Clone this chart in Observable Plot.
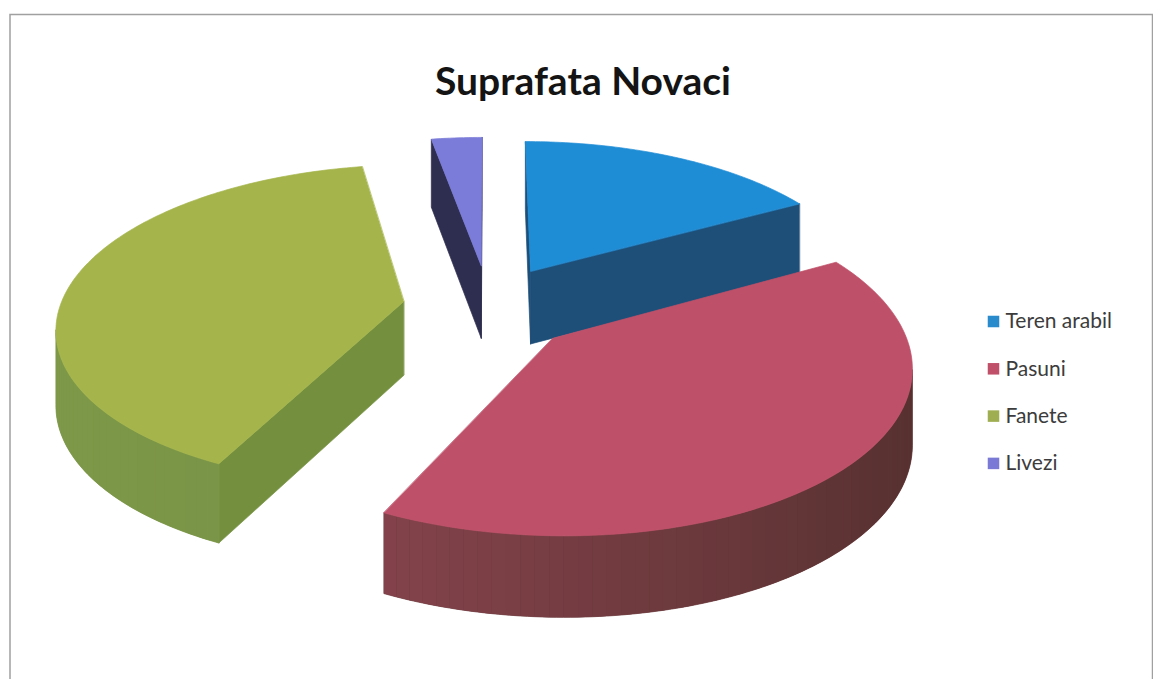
<!DOCTYPE html>
<html><head><meta charset="utf-8">
<script src="https://cdn.jsdelivr.net/npm/d3@7"></script>
<script src="https://cdn.jsdelivr.net/npm/@observablehq/plot@0.6"></script>
<style>html,body{margin:0;padding:0;background:#fff;overflow:hidden;}</style>
</head><body><div id="chart"></div>
<script>
// ---- data ----
const title = "Suprafata Novaci";
const categories = ["Teren arabil", "Pasuni", "Fanete", "Livezi"];
const values = [16.9, 40.3, 40.0, 2.8];
const topColors = ["#1f8dd6", "#be5069", "#a5b44b", "#7b7bd9"];
const cutColors = ["#1e4f79", "#6e383d", "#74903f", "#2e2e50"];
const wallLight = ["#2a6a9c", "#964a56", "#7e9949", "#45457a"];
const wallDark = ["#1a4466", "#55302f", "#6f8a40", "#2a2a48"];
const legendColors = ["#2a8bcc", "#c0506a", "#9fae50", "#7a7ad6"];

// ---- layout ----
const W = 1153, H = 679;
const CX = 488, CY = 307, RX = 344, RY = 158.5, PERSP = 0.147, DEPTH = 74;
const EXPLODE = 0.25, EXPLODE_V = 1.1;
const LEG_X = 993, LEG_TX = 1005, LEG_Y0 = 321, LEG_STEP = 47.3;

function project(u, v, h) {
  const w = 1 / (1 - PERSP * v);
  return [CX + RX * u * w, CY + RY * v * w + h * DEPTH * Math.sqrt(w)];
}
function area(pts) {
  let s = 0;
  for (let i = 0; i < pts.length; i++) {
    const [x1, y1] = pts[i], [x2, y2] = pts[(i + 1) % pts.length];
    s += x1 * y2 - x2 * y1;
  }
  return s / 2;
}

const arcs = d3.pie().sort(null).value(d => d)(values);
const slices = arcs.map((a, i) => {
  const m = (a.startAngle + a.endAngle) / 2;
  return {i, a0: a.startAngle, a1: a.endAngle, ou: EXPLODE * Math.sin(m), ov: -EXPLODE * EXPLODE_V * Math.cos(m)};
}).sort((p, q) => p.ov - q.ov);

const polys = [];
for (const s of slices) {
  const {i, a0, a1, ou, ov} = s;
  const P = (a, r, h) => project(ou + r * Math.sin(a), ov - r * Math.cos(a), h);
  const n = Math.max(2, Math.ceil((a1 - a0) / (Math.PI / 180)));
  const arc = d3.range(n + 1).map(k => a0 + (a1 - a0) * k / n);
  const sf = [P(a0, 0, 0), P(a0, 1, 0), P(a0, 1, 1), P(a0, 0, 1)];
  if (area(sf) < 0) polys.push({fill: cutColors[i], sw: 0.7, pts: sf});
  const ef = [P(a1, 1, 0), P(a1, 0, 0), P(a1, 0, 1), P(a1, 1, 1)];
  if (area(ef) < 0) polys.push({fill: cutColors[i], sw: 0.7, pts: ef});
  const shade = d3.interpolateRgb(wallLight[i], wallDark[i]);
  // visible runs of the outer wall: one base polygon, then shaded strips on top
  const vis = d3.range(n).map(k => area([P(arc[k], 1, 0), P(arc[k + 1], 1, 0), P(arc[k + 1], 1, 1), P(arc[k], 1, 1)]) < 0);
  let k = 0;
  while (k < n) {
    if (!vis[k]) { k++; continue; }
    let e = k;
    while (e < n && vis[e]) e++;
    const ks = d3.range(k, e + 1);
    const tm = (Math.sin((arc[k] + arc[e]) / 2) + 1) / 2;
    polys.push({fill: shade(tm), sw: 0.7, pts: ks.map(j => P(arc[j], 1, 0)).concat(ks.slice().reverse().map(j => P(arc[j], 1, 1)))});
    for (let j = k; j < e; j += 2) {
      const j2 = Math.min(j + 2, e);
      const t = (Math.sin((arc[j] + arc[j2]) / 2) + 1) / 2;
      const seg = d3.range(j, j2 + 1);
      polys.push({fill: shade(t), sw: 0, pts: seg.map(q => P(arc[q], 1, 0)).concat(seg.slice().reverse().map(q => P(arc[q], 1, 1)))});
    }
    k = e;
  }
  polys.push({fill: topColors[i], sw: 0.7, pts: [P(a0, 0, 0)].concat(arc.map(a => P(a, 1, 0)))});
}
const rows = polys.flatMap((p, id) => p.pts.map(([x, y]) => ({id, fill: p.fill, sw: p.sw, x, y})));
const rowsStroked = rows.filter(r => r.sw > 0);

const legendRows = categories.map((label, i) => ({label, color: legendColors[i], x: LEG_X, tx: LEG_TX, y: LEG_Y0 + i * LEG_STEP}));

const chart = Plot.plot({
  width: W, height: H, margin: 0,
  x: {type: "identity", axis: null},
  y: {type: "identity", axis: null},
  color: {type: "identity"},
  style: {fontFamily: "Lato, 'Open Sans', sans-serif", background: "#fff", overflow: "hidden"},
  marks: [
    Plot.frame({stroke: "#a0a0a0", strokeWidth: 1.5, insetLeft: 9.5, insetTop: 14, insetRight: 1, insetBottom: -20}),
    Plot.line(rows, {x: "x", y: "y", z: "id", fill: "fill", stroke: d => d.sw > 0 ? d.fill : "none", strokeWidth: 0.7, curve: "linear-closed"}),
    Plot.text([title], {frameAnchor: "top", dx: 6, dy: 67, fontSize: 39, fontWeight: "bold", fill: "#141414"}),
    Plot.dot(legendRows, {x: "x", y: "y", symbol: "square", r: 6.5, fill: "color"}),
    Plot.text(legendRows, {x: "tx", y: "y", text: "label", textAnchor: "start", fontSize: 21, fill: "#3c3c3c"})
  ]
});
document.getElementById("chart").append(chart);
</script>
</body></html>
